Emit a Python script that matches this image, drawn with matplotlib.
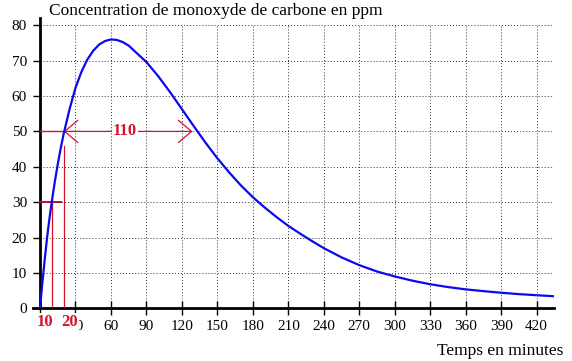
import matplotlib
matplotlib.use("Agg")
import matplotlib.pyplot as plt
import numpy as np

# valeurs (temps en minutes, concentration en ppm)
temps = [0, 2, 4, 6, 8, 10, 12.5, 15, 17.5, 20, 25, 30, 35, 40, 45, 50, 55, 60,
         65, 70, 75, 80, 90, 100, 110, 120, 130, 140, 150, 160, 170, 180, 190,
         200, 210, 220, 230, 240, 255, 270, 285, 300, 315, 330, 345, 360, 375,
         390, 405, 420, 435]
conc = [0, 7.2, 13.8, 20, 25.4, 30.2, 35.7, 40.7, 45.2, 49.3, 56.3, 62.3, 66.8,
        70.3, 72.8, 74.55, 75.55, 76, 75.85, 75.25, 74.25, 72.7, 69.6, 65.6,
        61.1, 56.3, 51.5, 46.8, 42.4, 38.4, 34.7, 31.4, 28.5, 25.8, 23.3, 21.1,
        19.0, 17.0, 14.4, 12.2, 10.4, 9.0, 7.8, 6.8, 6.0, 5.35, 4.85, 4.4, 4.0,
        3.7, 3.4]

xticks = list(range(0, 421, 30))
yticks = list(range(0, 81, 10))

t1, c1 = 10, 30      # 30 ppm atteint a 10 min
t2, c2 = 20, 50      # 50 ppm atteint a 20 min
t3 = 130             # retour a 50 ppm
duree = t3 - t2

plt.rcParams['font.family'] = ['Liberation Serif', 'DejaVu Serif']
plt.rcParams['lines.scale_dashes'] = False

rouge = '#d4122a'

fig = plt.figure(figsize=(5.72, 3.61), dpi=100)
ax = fig.add_axes([32.9 / 572, (361 - 308.3) / 361, 521.5 / 572, 290.1 / 361])

ax.set_xlim(-6, 435)
ax.set_ylim(0, 82)

# quadrillage pointille
ax.hlines(yticks[1:], 0, 435, colors='#333333', linestyles=(0, (0.7, 1.5)), lw=0.7, zorder=1)
ax.vlines(xticks[1:], 0, 80, colors='#333333', linestyles=(0, (0.7, 1.5)), lw=0.7, zorder=1)

ax.plot(temps, conc, color='#0a0aee', lw=1.6, zorder=4, solid_joinstyle='round')

# traits de lecture
ax.plot([t1, t1], [0, c1], color=rouge, lw=0.9, zorder=3)
ax.plot([0, 18], [c1, c1], color='#b01028', lw=1.4, zorder=3)
ax.plot([t2, t2], [0, 46], color=rouge, lw=0.9, zorder=3)
ax.plot([0, t2], [c2, c2], color=rouge, lw=1.0, zorder=3)
ax.annotate('', xy=(t2, c2), xytext=(t3 - 1, c2),
            arrowprops=dict(arrowstyle='<->,head_length=0.95,head_width=0.8',
                            color=rouge, lw=0.9, shrinkA=0, shrinkB=0,
                            mutation_scale=10), zorder=3)
ax.text((t2 + t3) / 2 - 3, c2, str(duree), color=rouge, fontsize=12, fontweight='bold',
        ha='center', va='center', zorder=5,
        bbox=dict(facecolor='white', edgecolor='none', pad=0.5))

ax.text(t1 - 5.8, -4.9, str(t1), color=rouge, fontsize=12, fontweight='bold',
        ha='center', va='baseline', zorder=5, clip_on=False,
        bbox=dict(facecolor='white', edgecolor='none', pad=0.3))
ax.text(t2 + 5.4, -4.9, str(t2), color=rouge, fontsize=12, fontweight='bold',
        ha='center', va='baseline', zorder=5, clip_on=False,
        bbox=dict(facecolor='white', edgecolor='none', pad=0.3))

ax.spines['top'].set_visible(False)
ax.spines['right'].set_visible(False)
ax.spines['left'].set_position(('data', 0))
ax.spines['left'].set_linewidth(2.0)
ax.spines['bottom'].set_linewidth(2.0)

ax.set_xticks(xticks)
ax.set_yticks(yticks)
ax.tick_params(axis='x', direction='inout', length=9.6, width=1.0, pad=3.5, labelsize=11)
ax.tick_params(axis='y', direction='out', length=4.8, width=1.0, pad=4.5, labelsize=11)

fig.text(49 / 572, 1 - 15 / 361, 'Concentration de monoxyde de carbone en ppm',
         fontsize=12.5, ha='left', va='baseline')
fig.text(563 / 572, 1 - 355 / 361, 'Temps en minutes', fontsize=12.5,
         ha='right', va='baseline')

fig.savefig('out.png', dpi=100)
